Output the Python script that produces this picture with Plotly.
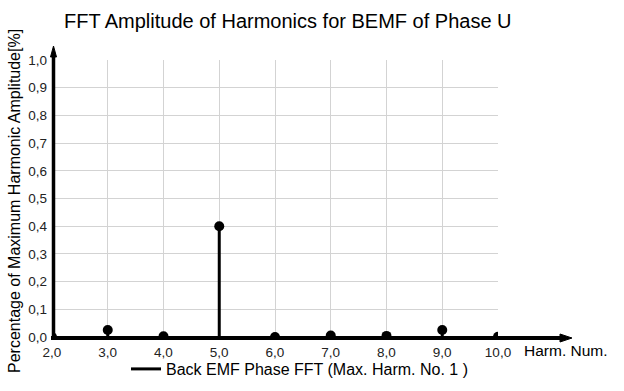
import plotly.graph_objects as go

harmonics = [2, 3, 4, 5, 6, 7, 8, 9, 10]
amplitude = [0.0, 0.025, 0.003, 0.40, 0.0, 0.005, 0.004, 0.025, 0.001]
x_ticks = [2, 3, 4, 5, 6, 7, 8, 9, 10]
y_ticks = [0.0, 0.1, 0.2, 0.3, 0.4, 0.5, 0.6, 0.7, 0.8, 0.9, 1.0]

W, H = 624, 391
L, R, T, B = 52, 126, 60, 54
pw, ph = W - L - R, H - T - B

def px(x):
    return (x - L) / pw

def py(y):
    return (H - B - y) / ph

stem_x, stem_y = [], []
for h, a in zip(harmonics, amplitude):
    stem_x += [h, h, None]
    stem_y += [0, a, None]

fig = go.Figure()
fig.add_trace(go.Scatter(x=stem_x, y=stem_y, mode="lines",
                         line=dict(color="black", width=3),
                         name="Back EMF Phase FFT (Max. Harm. No. 1 )",
                         showlegend=True, cliponaxis=True))
fig.add_trace(go.Scatter(x=harmonics, y=amplitude, mode="markers",
                         marker=dict(color="black", size=10),
                         showlegend=False, cliponaxis=True))

font = "Liberation Sans, Arial, sans-serif"
shapes = [
    dict(type="line", xref="paper", yref="paper", x0=px(51), x1=px(564), y0=py(338), y1=py(338),
         line=dict(color="black", width=4), layer="above"),
    dict(type="line", xref="paper", yref="paper", x0=px(53.5), x1=px(53.5), y0=py(340), y1=py(54),
         line=dict(color="black", width=3.5), layer="above"),
    dict(type="path", xref="paper", yref="paper",
         path=f"M {px(560)} {py(334)} L {px(572)} {py(338)} L {px(560)} {py(342)} Z",
         fillcolor="black", line=dict(color="black", width=1), layer="above"),
    dict(type="path", xref="paper", yref="paper",
         path=f"M {px(50.5)} {py(57)} L {px(53.5)} {py(46)} L {px(56.5)} {py(57)} Z",
         fillcolor="black", line=dict(color="black", width=1), layer="above"),
]

annotations = [
    dict(text="FFT Amplitude of Harmonics for BEMF of Phase U", xref="paper", yref="paper",
         x=px(288), y=py(21), xanchor="center", yanchor="middle", showarrow=False,
         font=dict(family=font, size=20, color="black")),
    dict(text="Percentage of Maximum Harmonic Amplitude[%]", xref="paper", yref="paper",
         x=px(14), y=py(201), xanchor="center", yanchor="middle", textangle=-90, showarrow=False,
         font=dict(family=font, size=16, color="black")),
    dict(text="Harm. Num.", xref="paper", yref="paper",
         x=px(522), y=py(350), xanchor="left", yanchor="middle", showarrow=False,
         font=dict(family=font, size=15.5, color="black")),
]

fig.update_layout(
    width=W, height=H, margin=dict(l=L, r=R, t=T, b=B, autoexpand=False),
    paper_bgcolor="white", plot_bgcolor="white",
    separators=",.",
    font=dict(family=font, size=12, color="#222"),
    shapes=shapes, annotations=annotations,
    showlegend=True,
    legend=dict(x=px(126), y=py(369), xanchor="left", yanchor="middle", orientation="h",
                font=dict(family=font, size=16, color="black"), bgcolor="rgba(0,0,0,0)"),
    xaxis=dict(range=[2, 10], tickvals=x_ticks, tickformat=".1f", showgrid=True,
               gridcolor="#d3d3d3", gridwidth=1, zeroline=False, showline=False,
               ticks="", ticklabelstandoff=5, tickfont=dict(family=font, size=13.5, color="#222"),
               fixedrange=True),
    yaxis=dict(range=[0, 1], tickvals=y_ticks, tickformat=".1f", showgrid=True,
               gridcolor="#d3d3d3", gridwidth=1, zeroline=False, showline=False,
               ticks="", ticklabelstandoff=4, tickfont=dict(family=font, size=13.5, color="#222"),
               fixedrange=True),
)

fig.write_html("out.html", config={"displayModeBar": False},
               post_script="document.body.style.margin='0px';")
